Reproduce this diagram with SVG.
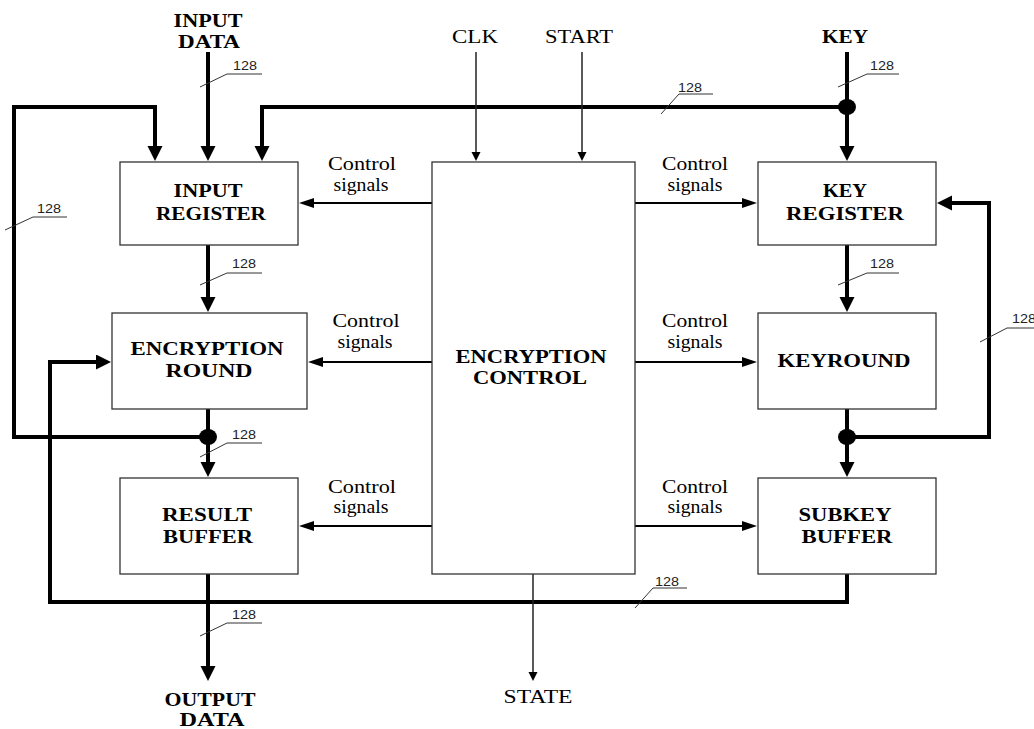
<svg xmlns="http://www.w3.org/2000/svg" width="1034" height="729" viewBox="0 0 1034 729">
<style>
.box{fill:#fff;stroke:#333;stroke-width:1.3}
.bus{fill:none;stroke:#000;stroke-width:4}
.ctl{fill:none;stroke:#000;stroke-width:2}
.sig{fill:none;stroke:#222;stroke-width:1.5}
.tick{fill:none;stroke:#333;stroke-width:1}
.b{font-family:"Liberation Serif","Times New Roman",serif;font-weight:bold;font-size:18px;fill:#000;text-anchor:middle}
.n{font-family:"Liberation Serif","Times New Roman",serif;font-size:18px;fill:#000;text-anchor:middle}
.w{font-family:"Liberation Sans",Arial,sans-serif;font-size:12px;fill:#222}
</style>
<defs>
<marker id="big" markerUnits="userSpaceOnUse" markerWidth="16" markerHeight="16" viewBox="0 0 16 16" refX="1" refY="7.5" orient="auto"><path d="M0,0 L15,7.5 L0,15 z" fill="#000"/></marker>
<marker id="mid" markerUnits="userSpaceOnUse" markerWidth="16" markerHeight="12" viewBox="0 0 16 12" refX="1" refY="5" orient="auto"><path d="M0,0 L15,5 L0,10 z" fill="#000"/></marker>
<marker id="sm" markerUnits="userSpaceOnUse" markerWidth="10" markerHeight="10" viewBox="0 0 10 10" refX="1" refY="4.5" orient="auto"><path d="M0,0 L9,4.5 L0,9 z" fill="#000"/></marker>
</defs>
<rect width="1034" height="729" fill="#fff"/>

<g id="connectors">
<path class="bus" d="M208,52 V147" marker-end="url(#big)"/>
<path class="bus" d="M208,437 H14 V107 H155 V147" marker-end="url(#big)"/>
<path class="bus" d="M847,107 H262 V147" marker-end="url(#big)"/>
<path class="bus" d="M847,52 V147" marker-end="url(#big)"/>
<path class="bus" d="M208,245 V298" marker-end="url(#big)"/>
<path class="bus" d="M208,409 V463" marker-end="url(#big)"/>
<path class="bus" d="M208,574 V667" marker-end="url(#big)"/>
<path class="bus" d="M847,574 V602 H50 V362 H97" marker-end="url(#big)"/>
<path class="bus" d="M847,245 V298" marker-end="url(#big)"/>
<path class="bus" d="M847,409 V463" marker-end="url(#big)"/>
<path class="bus" d="M847,437 H989 V203 H951" marker-end="url(#big)"/>
<ellipse cx="847" cy="107" rx="9" ry="8" fill="#000"/>
<ellipse cx="208" cy="437" rx="9" ry="8" fill="#000"/>
<ellipse cx="847" cy="437" rx="9" ry="8" fill="#000"/>

<path class="ctl" d="M432,203 H313" marker-end="url(#mid)"/>
<path class="ctl" d="M432,362 H322" marker-end="url(#mid)"/>
<path class="ctl" d="M432,526 H313" marker-end="url(#mid)"/>
<path class="ctl" d="M635,203 H743" marker-end="url(#mid)"/>
<path class="ctl" d="M635,362 H743" marker-end="url(#mid)"/>
<path class="ctl" d="M635,526 H743" marker-end="url(#mid)"/>

<path class="sig" d="M476,52 V153" marker-end="url(#sm)"/>
<path class="sig" d="M582,52 V153" marker-end="url(#sm)"/>
<path class="sig" d="M533,574 V673" marker-end="url(#sm)"/>

<path class="tick" d="M200,87 L227,74 H262"/>
<path class="tick" d="M5,230 L33,217 H67"/>
<path class="tick" d="M661,114 L679,94 H713"/>
<path class="tick" d="M838,87 L867,74 H899"/>
<path class="tick" d="M200,285 L227,273 H262"/>
<path class="tick" d="M200,457 L227,443 H262"/>
<path class="tick" d="M200,636 L227,623 H262"/>
<path class="tick" d="M838,285 L867,273 H899"/>
<path class="tick" d="M980,342 L1007,328 H1034"/>
<path class="tick" d="M635,608 L653,588 H687"/>
<text class="w" x="233" y="70" textLength="24" lengthAdjust="spacingAndGlyphs">128</text>
<text class="w" x="37" y="213" textLength="24" lengthAdjust="spacingAndGlyphs">128</text>
<text class="w" x="678" y="92" textLength="24" lengthAdjust="spacingAndGlyphs">128</text>
<text class="w" x="870" y="70" textLength="24" lengthAdjust="spacingAndGlyphs">128</text>
<text class="w" x="232" y="268" textLength="24" lengthAdjust="spacingAndGlyphs">128</text>
<text class="w" x="232" y="439" textLength="24" lengthAdjust="spacingAndGlyphs">128</text>
<text class="w" x="232" y="619" textLength="24" lengthAdjust="spacingAndGlyphs">128</text>
<text class="w" x="870" y="268" textLength="24" lengthAdjust="spacingAndGlyphs">128</text>
<text class="w" x="1012" y="323" textLength="24" lengthAdjust="spacingAndGlyphs">128</text>
<text class="w" x="655" y="586" textLength="24" lengthAdjust="spacingAndGlyphs">128</text>

<text class="n" x="362" y="170" textLength="68" lengthAdjust="spacingAndGlyphs">Control</text>
<text class="n" x="361" y="191" textLength="55" lengthAdjust="spacingAndGlyphs">signals</text>
<text class="n" x="366" y="327" textLength="67" lengthAdjust="spacingAndGlyphs">Control</text>
<text class="n" x="365" y="348" textLength="55" lengthAdjust="spacingAndGlyphs">signals</text>
<text class="n" x="362" y="493" textLength="68" lengthAdjust="spacingAndGlyphs">Control</text>
<text class="n" x="361" y="513" textLength="55" lengthAdjust="spacingAndGlyphs">signals</text>
<text class="n" x="695" y="170" textLength="66" lengthAdjust="spacingAndGlyphs">Control</text>
<text class="n" x="695" y="191" textLength="55" lengthAdjust="spacingAndGlyphs">signals</text>
<text class="n" x="695" y="327" textLength="66" lengthAdjust="spacingAndGlyphs">Control</text>
<text class="n" x="695" y="348" textLength="55" lengthAdjust="spacingAndGlyphs">signals</text>
<text class="n" x="695" y="493" textLength="66" lengthAdjust="spacingAndGlyphs">Control</text>
<text class="n" x="695" y="513" textLength="55" lengthAdjust="spacingAndGlyphs">signals</text>
</g>

<g id="input-data"><text class="b" x="208" y="27" textLength="69" lengthAdjust="spacingAndGlyphs">INPUT</text><text class="b" x="209" y="48" textLength="62" lengthAdjust="spacingAndGlyphs">DATA</text></g>
<g id="clk"><text class="n" x="475" y="43" textLength="46" lengthAdjust="spacingAndGlyphs">CLK</text></g>
<g id="start"><text class="n" x="579" y="43" textLength="68" lengthAdjust="spacingAndGlyphs">START</text></g>
<g id="key"><text class="b" x="845" y="43" textLength="46" lengthAdjust="spacingAndGlyphs">KEY</text></g>
<g id="state"><text class="n" x="538" y="703" textLength="69" lengthAdjust="spacingAndGlyphs">STATE</text></g>
<g id="output-data"><text class="b" x="210" y="706" textLength="91" lengthAdjust="spacingAndGlyphs">OUTPUT</text><text class="b" x="212" y="726" textLength="65" lengthAdjust="spacingAndGlyphs">DATA</text></g>

<g id="input-register"><rect class="box" x="120" y="162" width="178" height="83"/><text class="b" x="208" y="197" textLength="69" lengthAdjust="spacingAndGlyphs">INPUT</text><text class="b" x="211" y="220" textLength="110" lengthAdjust="spacingAndGlyphs">REGISTER</text></g>
<g id="encryption-round"><rect class="box" x="112" y="313" width="195" height="96"/><text class="b" x="207" y="355" textLength="153" lengthAdjust="spacingAndGlyphs">ENCRYPTION</text><text class="b" x="209" y="377" textLength="87" lengthAdjust="spacingAndGlyphs">ROUND</text></g>
<g id="result-buffer"><rect class="box" x="120" y="478" width="178" height="96"/><text class="b" x="207" y="521" textLength="90" lengthAdjust="spacingAndGlyphs">RESULT</text><text class="b" x="208" y="543" textLength="90" lengthAdjust="spacingAndGlyphs">BUFFER</text></g>
<g id="encryption-control"><rect class="box" x="432" y="162" width="203" height="412"/><text class="b" x="531" y="363" textLength="151" lengthAdjust="spacingAndGlyphs">ENCRYPTION</text><text class="b" x="530" y="384" textLength="114" lengthAdjust="spacingAndGlyphs">CONTROL</text></g>
<g id="key-register"><rect class="box" x="758" y="162" width="178" height="83"/><text class="b" x="845" y="197" textLength="44" lengthAdjust="spacingAndGlyphs">KEY</text><text class="b" x="845" y="220" textLength="118" lengthAdjust="spacingAndGlyphs">REGISTER</text></g>
<g id="keyround"><rect class="box" x="758" y="313" width="178" height="96"/><text class="b" x="844" y="367" textLength="133" lengthAdjust="spacingAndGlyphs">KEYROUND</text></g>
<g id="subkey-buffer"><rect class="box" x="758" y="478" width="178" height="96"/><text class="b" x="845" y="521" textLength="93" lengthAdjust="spacingAndGlyphs">SUBKEY</text><text class="b" x="847" y="543" textLength="91" lengthAdjust="spacingAndGlyphs">BUFFER</text></g>
</svg>
